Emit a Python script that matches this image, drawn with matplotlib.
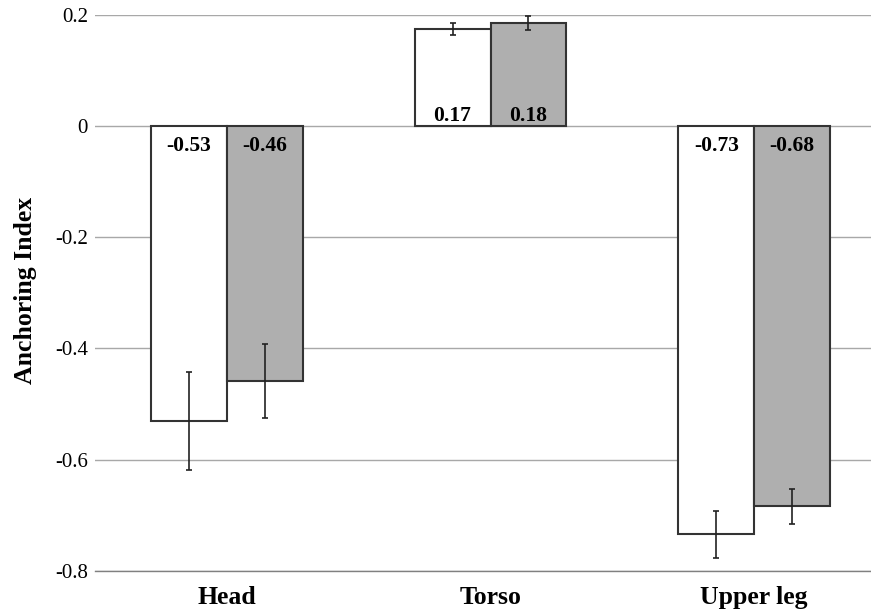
import matplotlib
matplotlib.use("Agg")
import matplotlib.pyplot as plt
import numpy as np

categories = ["Head", "Torso", "Upper leg"]
series1_values = [-0.53, 0.174, -0.734]
series1_errors = [0.088, 0.0105, 0.0425]
series1_labels = ["-0.53", "0.17", "-0.73"]
series2_values = [-0.459, 0.185, -0.684]
series2_errors = [0.0665, 0.0125, 0.031]
series2_labels = ["-0.46", "0.18", "-0.68"]
yticks = [0.2, 0, -0.2, -0.4, -0.6, -0.8]
ytick_labels = ["0.2", "0", "-0.2", "-0.4", "-0.6", "-0.8"]

W, H = 871, 615
fig = plt.figure(figsize=(W / 100, H / 100), dpi=100)
ax = fig.add_axes([95 / W, (H - 571) / H, 776 / W, 556.3 / H])

x = np.arange(len(categories))
bw = 0.288
edge = "#333333"
ax.bar(x - bw / 2, series1_values, bw, color="white", edgecolor=edge, linewidth=1.5, zorder=3)
ax.bar(x + bw / 2, series2_values, bw, color="#afafaf", edgecolor=edge, linewidth=1.5, zorder=3)
ax.errorbar(x - bw / 2, series1_values, yerr=series1_errors, fmt="none", ecolor="#222222",
            elinewidth=1.2, capsize=2.2, capthick=1.2, zorder=4)
ax.errorbar(x + bw / 2, series2_values, yerr=series2_errors, fmt="none", ecolor="#222222",
            elinewidth=1.2, capsize=2.2, capthick=1.2, zorder=4)

font = "Liberation Serif"
for xs, vals, labs in [(x - bw / 2, series1_values, series1_labels),
                       (x + bw / 2, series2_values, series2_labels)]:
    for xi, v, lab in zip(xs, vals, labs):
        off = -18 if v < 0 else 3.6
        ax.annotate(lab, (xi, 0), xytext=(0, off), textcoords="offset points",
                    ha="center", va="baseline", fontsize=15.5, fontweight="bold",
                    family=font, zorder=5)

ax.set_xlim(-0.5, 2.443)
ax.set_ylim(-0.8, 0.2)
ax.set_yticks(yticks)
ax.set_yticklabels(ytick_labels, family=font, fontsize=15)
ax.set_xticks(x)
ax.set_xticklabels(categories, family=font, fontsize=18.5, fontweight="bold")
ax.tick_params(axis="both", length=0)
ax.tick_params(axis="y", pad=5)
ax.tick_params(axis="x", pad=11)
ax.yaxis.grid(True, color="#a8a8a8", linewidth=1.0)
ax.set_axisbelow(True)
for s in ["top", "right", "left"]:
    ax.spines[s].set_visible(False)
ax.spines["bottom"].set_color("#808080")
ax.spines["bottom"].set_linewidth(1.0)
ax.set_ylabel("Anchoring Index", family=font, fontsize=18.5, fontweight="bold")
ax.yaxis.set_label_coords(-(95 - 37) / 776, (571 - 290) / 556.3)

fig.savefig("out.png", dpi=100)
